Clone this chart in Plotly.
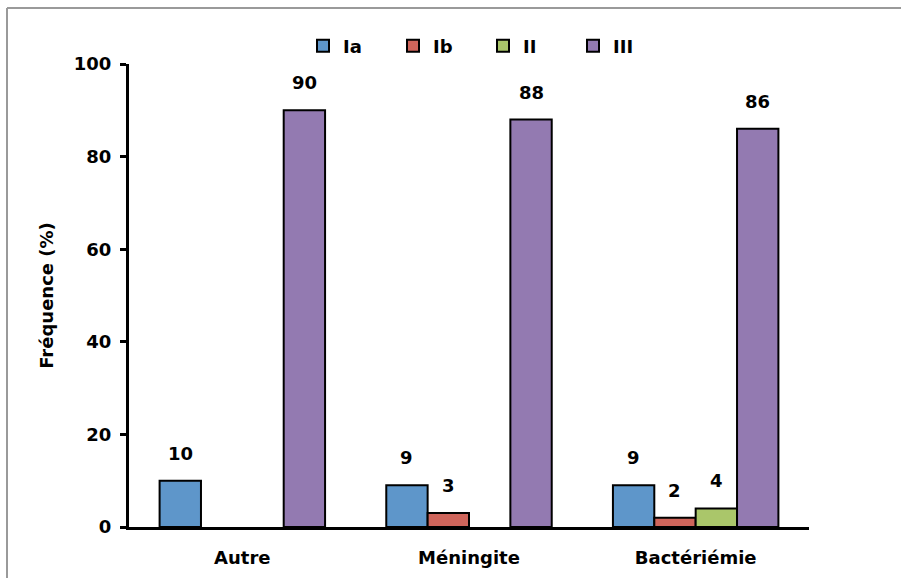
import plotly.graph_objects as go

# Catégories cliniques et fréquences (%) par sérotype
categories = ["Autre", "Méningite", "Bactériémie"]
series_names = ["Ia", "Ib", "II", "III"]
ia = [10, 9, 9]
ib = [None, 3, 2]
ii = [None, None, 4]
iii = [90, 88, 86]
colors = ["#5E96CA", "#CF655B", "#AAC66A", "#937AB1"]

series_values = [ia, ib, ii, iii]

FONT = "DejaVu Sans"
fig = go.Figure()
for name, vals, col in zip(series_names, series_values, colors):
    fig.add_trace(go.Bar(
        x=categories, y=vals, name=name,
        marker=dict(color=col, line=dict(color="black", width=2)),
        hoverinfo="skip",
    ))

# Étiquettes de valeur au-dessus des barres
bargap = 0.27
n = len(series_names)
bw = (1 - bargap) / n
annotations = []
for s, vals in enumerate(series_values):
    off = -(1 - bargap) / 2 + bw * (s + 0.5)
    for i, v in enumerate(vals):
        if v is None:
            continue
        annotations.append(dict(
            x=i + off, y=v, xref="x", yref="y", text=f"<b>{v}</b>",
            showarrow=False, yanchor="bottom", yshift=15,
            font=dict(family=FONT, size=18, color="black"),
        ))

W, H = 901, 578
L, R, T, B = 129, 92, 64, 51
pw, ph = W - L - R, H - T - B
def px_x(p):
    return (p - L) / pw
def px_y(p):
    return (H - B - p) / ph

fig.update_layout(
    width=W, height=H,
    margin=dict(l=L, r=R, t=T, b=B, autoexpand=False),
    barmode="group", bargap=bargap, bargroupgap=0,
    plot_bgcolor="white", paper_bgcolor="white",
    font=dict(family=FONT, size=18, color="black"),
    showlegend=True,
    legend=dict(
        orientation="h", x=px_x(303), xanchor="left",
        y=px_y(46), yanchor="middle",
        entrywidth=45, entrywidthmode="pixels",
        font=dict(family=FONT, size=18, color="black", weight="bold"),
        itemclick=False, itemdoubleclick=False,
    ),
    annotations=annotations,
    shapes=[
        dict(type="line", xref="paper", yref="paper",
             x0=px_x(7), x1=px_x(910), y0=px_y(8), y1=px_y(8),
             line=dict(color="#9A9A9A", width=2)),
        dict(type="line", xref="paper", yref="paper",
             x0=px_x(7), x1=px_x(7), y0=px_y(8), y1=px_y(590),
             line=dict(color="#9A9A9A", width=2)),
    ],
)

fig.update_xaxes(
    showline=True, linecolor="black", linewidth=3,
    ticks="", showgrid=False, ticklabelstandoff=12,
    tickfont=dict(family=FONT, size=18, color="black", weight="bold"),
)
fig.update_yaxes(
    range=[0, 100], tickvals=[0, 20, 40, 60, 80, 100],
    showline=True, linecolor="black", linewidth=3,
    ticks="outside", ticklen=6, tickwidth=3, tickcolor="black",
    ticklabelstandoff=5,
    showgrid=False, zeroline=False,
    tickfont=dict(family=FONT, size=18, color="black", weight="bold"),
    title=dict(text="Fréquence (%)", standoff=16,
               font=dict(family=FONT, size=18, color="black", weight="bold")),
)

fig.write_html("out.html", config={"displayModeBar": False})
